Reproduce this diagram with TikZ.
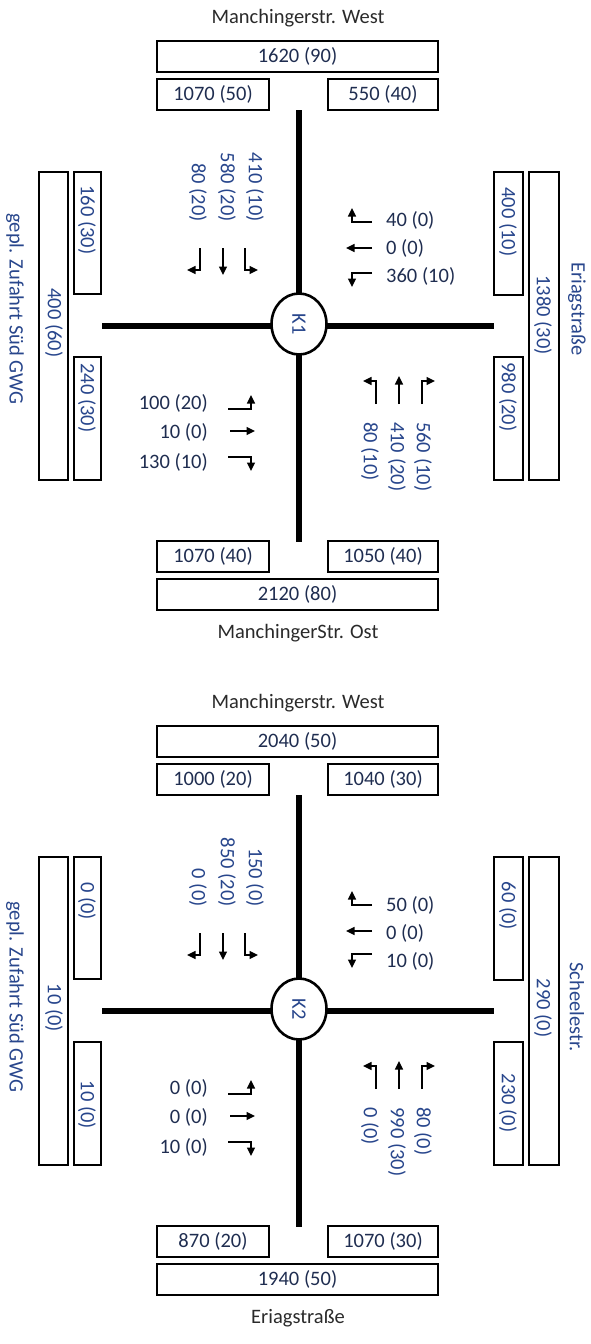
\documentclass[tikz,border=0pt]{standalone}
\usepackage{fontspec}
\setmainfont{Carlito}
\usetikzlibrary{shapes.geometric,arrows.meta,fit}
\definecolor{numcol}{HTML}{1F2D50}
\definecolor{rotcol}{HTML}{28468C}
\definecolor{namecol}{HTML}{2A2A2A}
\newcommand\lbx[5]{\node[lbox, fit={(#2,#3) (#4,#5)}] (#1) {};}
\begin{document}
\begin{tikzpicture}[x=1pt,y=-1pt,
 lbox/.style={draw=black, line width=1.4pt, inner sep=0pt},
 txt/.style={font=\fontsize{20.5}{24}\selectfont, inner sep=0pt, text=numcol},
 vtxt/.style={txt, rotate=-90, text=rotcol},
 sname/.style={txt, text=namecol},
 vname/.style={vtxt},
 road/.style={line width=6pt},
 lane/.style={line width=1.3pt, -{Triangle[length=8.5pt,width=8pt]}},
 knot/.style={draw, ellipse, fill=white, line width=2.6pt, minimum width=61pt, minimum height=55pt, inner sep=0pt, rotate=-90, font=\fontsize{20.5}{24}\selectfont, text=rotcol}
]
\useasboundingbox (0,0) rectangle (590,1344);

% ================= K1 =================
\coordinate (aN) at (299,110);
\coordinate (aS) at (299,542);
\coordinate (aW) at (102,326);
\coordinate (aE) at (494,326);
\draw[road] (aN) -- (aS);
\draw[road] (aW) -- (aE);
\node[knot] (aK) at (299,324) {K1};

% top
\node[sname] (aTn) at (298,18) {Manchingerstr. West};
\lbx{aTb}{157}{41}{438}{72}
\node[txt] (aTbt) at (aTb) {1620 (90)};
\lbx{aTl}{157}{79}{269}{110}
\node[txt] (aTlt) at (aTl) {1070 (50)};
\lbx{aTr}{328}{79}{438}{110}
\node[txt] (aTrt) at (aTr) {550 (40)};
% bottom
\lbx{aBl}{157}{541}{269}{572}
\node[txt] (aBlt) at (aBl) {1070 (40)};
\lbx{aBr}{328}{541}{438}{572}
\node[txt] (aBrt) at (aBr) {1050 (40)};
\lbx{aBb}{157}{579}{438}{610}
\node[txt] (aBbt) at (aBb) {2120 (80)};
\node[sname] (aBn) at (298,633) {ManchingerStr. Ost};
% left
\node[vname] (aWn) at (15,309) {gepl. Zufahrt Süd GWG};
\lbx{aWb}{39}{172}{68}{480}
\node[vtxt] (aWbt) at (54,323) {400 (60)};
\lbx{aWt}{74}{172}{101}{294}
\node[vtxt] (aWtt) at (87,220) {160 (30)};
\lbx{aWl}{74}{357}{101}{480}
\node[vtxt] (aWlt) at (87,398) {240 (30)};
% right
\lbx{aEt}{494}{172}{523}{295}
\node[vtxt] (aEtt) at (508,222) {400 (10)};
\lbx{aEl}{494}{357}{523}{480}
\node[vtxt] (aElt) at (508,397) {980 (20)};
\lbx{aEb}{529}{172}{559}{480}
\node[vtxt] (aEbt) at (543,315) {1380 (30)};
\node[vname] (aEn) at (577,309) {Eriagstraße};

% southbound
\node[vtxt, anchor=east] (aS1) at (198,222) {80 (20)};
\node[vtxt, anchor=east] (aS2) at (227,222) {580 (20)};
\node[vtxt, anchor=east] (aS3) at (255,222) {410 (10)};
\draw[lane] (200,248) -- (200,270) -- (187,270);
\draw[lane] (223,248) -- (223,275);
\draw[lane] (245,248) -- (245,270) -- (258,270);
% westbound (from east)
\node[txt, anchor=west] (aE1) at (386,220) {40 (0)};
\node[txt, anchor=west] (aE2) at (386,248) {0 (0)};
\node[txt, anchor=west] (aE3) at (386,276) {360 (10)};
\draw[lane] (372,222) -- (352,222) -- (352,208);
\draw[lane] (372,248) -- (346,248);
\draw[lane] (372,273) -- (352,273) -- (352,287);
% eastbound (from west)
\node[txt, anchor=east] (aW1) at (208,403) {100 (20)};
\node[txt, anchor=east] (aW2) at (208,432) {10 (0)};
\node[txt, anchor=east] (aW3) at (208,462) {130 (10)};
\draw[lane] (228,409) -- (251,409) -- (251,395);
\draw[lane] (230,431) -- (255,431);
\draw[lane] (228,457) -- (251,457) -- (251,471);
% northbound
\draw[lane] (376,404) -- (376,381) -- (363,381);
\draw[lane] (399,404) -- (399,376);
\draw[lane] (422,404) -- (422,381) -- (435,381);
\node[vtxt, anchor=west] (aN1) at (370,422) {80 (10)};
\node[vtxt, anchor=west] (aN2) at (397,422) {410 (20)};
\node[vtxt, anchor=west] (aN3) at (423,422) {560 (10)};

% ================= K2 =================
\begin{scope}[yshift=-685pt]
\coordinate (bN) at (299,110);
\coordinate (bS) at (299,542);
\coordinate (bW) at (102,326);
\coordinate (bE) at (494,326);
\draw[road] (bN) -- (bS);
\draw[road] (bW) -- (bE);
\node[knot] (bK) at (299,324) {K2};

\node[sname] (bTn) at (298,18) {Manchingerstr. West};
\lbx{bTb}{157}{41}{438}{72}
\node[txt] (bTbt) at (bTb) {2040 (50)};
\lbx{bTl}{157}{79}{269}{110}
\node[txt] (bTlt) at (bTl) {1000 (20)};
\lbx{bTr}{328}{79}{438}{110}
\node[txt] (bTrt) at (bTr) {1040 (30)};
\lbx{bBl}{157}{541}{269}{572}
\node[txt] (bBlt) at (bBl) {870 (20)};
\lbx{bBr}{328}{541}{438}{572}
\node[txt] (bBrt) at (bBr) {1070 (30)};
\lbx{bBb}{157}{579}{438}{610}
\node[txt] (bBbt) at (bBb) {1940 (50)};
\node[sname] (bBn) at (298,633) {Eriagstraße};

\node[vname] (bWn) at (15,312) {gepl. Zufahrt Süd GWG};
\lbx{bWb}{39}{172}{68}{480}
\node[vtxt] (bWbt) at (54,323) {10 (0)};
\lbx{bWt}{74}{172}{101}{294}
\node[vtxt] (bWtt) at (87,216) {0 (0)};
\lbx{bWl}{74}{357}{101}{480}
\node[vtxt] (bWlt) at (87,420) {10 (0)};
\lbx{bEt}{494}{172}{523}{295}
\node[vtxt] (bEtt) at (508,221) {60 (0)};
\lbx{bEl}{494}{357}{523}{480}
\node[vtxt] (bElt) at (508,418) {230 (0)};
\lbx{bEb}{529}{172}{559}{480}
\node[vtxt] (bEbt) at (543,323) {290 (0)};
\node[vname] (bEn) at (577,322) {Scheelestr.};

\node[vtxt, anchor=east] (bS1) at (198,222) {0 (0)};
\node[vtxt, anchor=east] (bS2) at (227,222) {850 (20)};
\node[vtxt, anchor=east] (bS3) at (255,222) {150 (0)};
\draw[lane] (200,248) -- (200,270) -- (187,270);
\draw[lane] (223,248) -- (223,275);
\draw[lane] (245,248) -- (245,270) -- (258,270);
\node[txt, anchor=west] (bE1) at (386,220) {50 (0)};
\node[txt, anchor=west] (bE2) at (386,248) {0 (0)};
\node[txt, anchor=west] (bE3) at (386,276) {10 (0)};
\draw[lane] (372,220) -- (352,220) -- (352,206);
\draw[lane] (372,246) -- (346,246);
\draw[lane] (372,269) -- (352,269) -- (352,283);
\node[txt, anchor=east] (bW1) at (208,403) {0 (0)};
\node[txt, anchor=east] (bW2) at (208,432) {0 (0)};
\node[txt, anchor=east] (bW3) at (208,462) {10 (0)};
\draw[lane] (228,409) -- (251,409) -- (251,395);
\draw[lane] (230,431) -- (255,431);
\draw[lane] (228,457) -- (251,457) -- (251,471);
\draw[lane] (376,404) -- (376,381) -- (363,381);
\draw[lane] (399,404) -- (399,376);
\draw[lane] (422,404) -- (422,381) -- (435,381);
\node[vtxt, anchor=west] (bN1) at (370,422) {0 (0)};
\node[vtxt, anchor=west] (bN2) at (397,422) {990 (30)};
\node[vtxt, anchor=west] (bN3) at (423,422) {80 (0)};
\end{scope}
\end{tikzpicture}
\end{document}
